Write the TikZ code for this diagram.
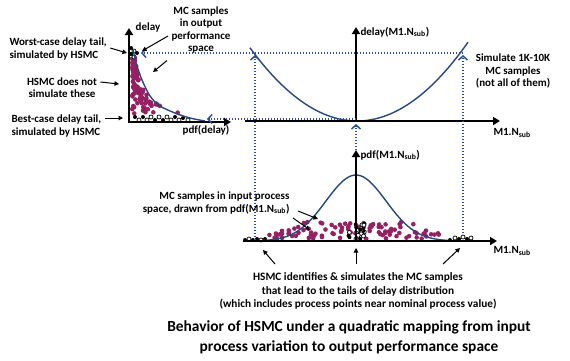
\documentclass[tikz,border=0pt]{standalone}
\usepackage{fontspec}
\setmainfont{Carlito}
\usetikzlibrary{arrows.meta}
\definecolor{curveblue}{RGB}{38,72,128}
\definecolor{projblue}{RGB}{40,80,160}
\definecolor{mcpurple}{RGB}{150,32,98}

\begin{document}
\begin{tikzpicture}[x=1pt, y=-1pt, font=\fontsize{11}{12.2}\selectfont\bfseries]
    \tikzstyle{axis} = [draw, line width=2.4pt, -{Triangle[length=7pt, width=8pt]}]
    \tikzstyle{curve} = [draw=curveblue, line width=1.4pt]
    \tikzstyle{proj} = [draw=projblue, line width=1.5pt, dash pattern=on 1.4pt off 1.6pt, -{Straight Barb[length=4pt, width=9pt, line width=1.5pt]}]
    \tikzstyle{ptr} = [draw, line width=1pt, -{Triangle[length=4.5pt, width=4.5pt]}]
    \tikzstyle{mc} = [fill=mcpurple]
    \tikzstyle{hsb} = [fill=black]
    \tikzstyle{hsw} = [fill=white, draw=black, line width=0.7pt]
    \useasboundingbox (0,0) rectangle (570,360);

    % output space: pdf(delay)
    \pgfmathsetseed{11}
    \foreach \i in {1,...,110} {
        \pgfmathsetmacro\yy{58+56*rnd}
        \pgfmathsetmacro\xc{min(128+600/(123-\yy),182)}
        \pgfmathsetmacro\xx{132+(\xc-134)*rnd}
        \path[mc] (\xx,\yy) circle (2.3);
    }
    \foreach \x/\y/\s in {131/48/hsb, 134/51/hsw, 131/54/hsb, 134/57/hsw, 137/53/hsb,
                          135/117/hsb, 139/120/hsw, 143/117/hsb, 147/120/hsw, 151/117/hsw,
                          155/120/hsb, 159/117/hsw, 163/120/hsb, 167/117/hsw, 171/120/hsw,
                          175/117/hsb, 179/120/hsw, 183/118/hsb, 188/120/hsw}
        \path[\s] (\x,\y) circle (2);
    \draw[curve] plot[smooth] coordinates {(133,50) (137,66) (142,80) (150,96) (160,106) (175,113) (190,118) (205,121)};
    \coordinate (dO) at (129,122);
    \draw[axis] (dO) ++(0,1) -- (129,28);
    \draw[axis] (dO) ++(-1,0) -- (231,122);
    \node at (148,27) (dlab) {delay};
    \node at (206,130) (pdlab) {pdf(delay)};

    % mapping: delay(M1.Nsub)
    \draw[curve] plot[domain=250:468, samples=60] (\x,{121-0.0064*(\x-357)*(\x-357)});
    \coordinate (mO) at (356,121);
    \draw[axis] (245,121) -- (500,121);
    \draw[axis] (mO) -- (356,27);
    \node[anchor=west] at (357,32) (mylab) {delay(M1.N\textsubscript{sub})};
    \node[anchor=west] at (490,133) (mxlab) {M1.N\textsubscript{sub}};

    % input space: pdf(M1.Nsub)
    \pgfmathsetseed{5}
    \foreach \i in {1,...,95} {
        \pgfmathsetmacro\xx{267+173*rnd}
        \pgfmathsetmacro\hh{min(17,66*exp(-(\xx-356)*(\xx-356)/1800)+5)}
        \pgfmathsetmacro\yy{239-\hh*rnd}
        \path[mc] (\xx,\yy) circle (2.3);
    }
    \pgfmathsetseed{3}
    \foreach \i in {1,...,22} {
        \pgfmathsetmacro\xx{348+17*rnd}
        \pgfmathsetmacro\yy{240-17*rnd^1.6}
        \ifodd\i \path[hsb] (\xx,\yy) circle (2); \else \path[hsw] (\xx,\yy) circle (2); \fi
    }
    \foreach \x/\y/\s in {245/240/hsb, 249/239/hsw, 253/240/hsb, 257/239/hsb, 261/240/hsw, 265/239/hsb,
                          450/240/hsb, 455/238/hsw, 459/239/hsb, 463/237/hsw, 467/239/hsb, 471/238/hsw}
        \path[\s] (\x,\y) circle (2);
    \draw[curve] plot[domain=262:452, samples=80, smooth] (\x,{241-66*exp(-(\x-356)*(\x-356)/1800)});
    \coordinate (pO) at (356,241);
    \draw[axis] (243,241) -- (497,241);
    \draw[axis] (pO) -- (356,150);
    \node[anchor=west] at (357,155) (pylab) {pdf(M1.N\textsubscript{sub})};
    \node[anchor=west] at (490,251) (pxlab) {M1.N\textsubscript{sub}};

    % projections
    \coordinate (lt) at (255,240);
    \coordinate (lq) at (255,55);
    \coordinate (rt) at (463,236);
    \coordinate (rq) at (463,55);
    \coordinate (rh) at (463,53);
    \coordinate (wq) at (141,53);
    \coordinate (ct) at (356,150);
    \coordinate (cq) at (356,124);
    \coordinate (ch) at (356,119);
    \coordinate (bq) at (207,119);
    \draw[proj] (lt) -- (lq);
    \draw[proj] (rt) -- (rq);
    \draw[proj] (rh) -- (wq);
    \draw[proj] (ct) -- (cq);
    \draw[proj] (ch) -- (bq);

    % labels
    \node[anchor=west, align=left] at (6,49) (worst) {Worst-case delay tail,\\simulated by HSMC};
    \node[align=center] at (62,88) (notsim) {HSMC does not\\simulate these};
    \node[anchor=west, align=left] at (8,126) (best) {Best-case delay tail,\\simulated by HSMC};
    \node[align=center] at (201,30) (mcout) {MC samples\\in output\\performance\\space};
    \node[align=center, font=\fontsize{11}{12.8}\selectfont\bfseries] at (513,71) (simk) {Simulate 1K-10K\\MC samples\\(not all of them)};
    \node[anchor=east, align=right] at (293,203) (mcin) {MC samples in input process\\space, drawn from pdf(M1.N\textsubscript{sub})};
    \node[align=center, font=\fontsize{11.3}{13.6}\selectfont\bfseries] at (358,291) (hsmc) {HSMC identifies \& simulates the MC samples\\that lead to the tails of delay distribution\\(which includes process points near nominal process value)};
    \node[align=center, font=\fontsize{15.4}{20}\selectfont\bfseries] at (349,337) (title) {Behavior of HSMC under a quadratic mapping from input\\process variation to output performance space};

    % pointers
    \coordinate (wtip) at (127,53);
    \coordinate (ntip) at (119,84);
    \coordinate (btip) at (123,118);
    \coordinate (otip1) at (142,51);
    \coordinate (otip2) at (153,72);
    \coordinate (itip1) at (318,219);
    \coordinate (itip2) at (310,230);
    \coordinate (htip1) at (263,250);
    \coordinate (htip2) at (356,248);
    \coordinate (htip3) at (460,248);
    \draw[ptr] ([yshift=1pt]worst.east) -- (wtip);
    \draw[ptr] ([yshift=6pt]notsim.east) -- (ntip);
    \draw[ptr] ([yshift=8pt]best.east) -- (btip);
    \draw[ptr] ([yshift=-6pt]mcout.west) -- (otip1);
    \draw[ptr] ([shift={(-1pt,-4pt)}]mcout.south west) -- (otip2);
    \draw[ptr] ([shift={(5pt,-8pt)}]mcin.east) -- (itip1);
    \draw[ptr] ([shift={(0pt,-15pt)}]mcin.east) -- (itip2);
    \draw[ptr] ([shift={(-83pt,5pt)}]hsmc.north) -- (htip1);
    \draw[ptr] ([shift={(-2pt,5pt)}]hsmc.north) -- (htip2);
    \draw[ptr] ([shift={(85pt,5pt)}]hsmc.north) -- (htip3);
\end{tikzpicture}
\end{document}
